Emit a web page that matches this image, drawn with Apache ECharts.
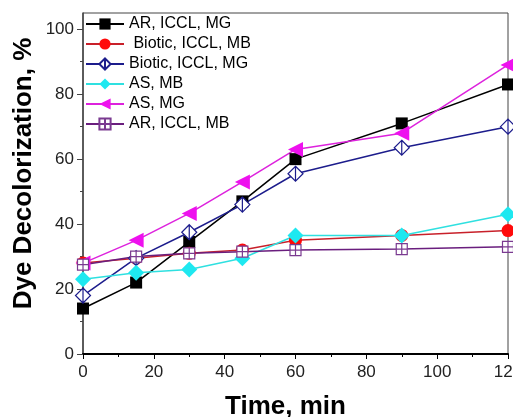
<!DOCTYPE html>
<html>
<head>
<meta charset="utf-8">
<script src="https://cdn.jsdelivr.net/npm/echarts@6/dist/echarts.min.js"></script>
<style>
  html, body { margin: 0; padding: 0; background: #fff; }
  #chart { width: 513px; height: 417px; }
</style>
</head>
<body>
<div id="chart"></div>
<script>
'use strict';
{
    const time = [0, 15, 30, 45, 60, 90, 120];
    const arIcclMg = [14, 22, 34.5, 47, 60, 71, 83];
    const bioIcclMb = [28, 29.5, 31, 32, 35, 36.5, 38];
    const bioIcclMg = [18, 29.5, 37.5, 46, 55.5, 63.5, 70];
    const asMb = [23, 25, 26, 29.5, 36.5, 36.5, 43];
    const asMg = [28, 35, 43.3, 53, 63, 68, 89];
    const arIcclMb = [27.5, 30, 31, 31.5, 32, 32.3, 33];

    const yLabels = [0, 20, 40, 60, 80, 100];
    const yMinor = [10, 30, 50, 70, 90];

    const font = 'Arial, "Liberation Sans", sans-serif';
    const pair = arr => arr.map((v, i) => [time[i], v]);

    function line(name, data, lineColor, symbol, size, itemStyle, extra) {
        return Object.assign({
            name: name,
            type: 'line',
            data: pair(data),
            symbol: symbol,
            symbolSize: size,
            lineStyle: { color: lineColor, width: 1.5 },
            itemStyle: itemStyle,
            clip: false
        }, extra || {});
    }

    let chart = echarts.init(document.getElementById('chart'));
    let option = {
        animation: false,
        backgroundColor: '#fff',
        textStyle: { fontFamily: font },
        grid: {
            left: 83, right: 5, top: 13, bottom: 63,
            outerBoundsMode: 'none',
            containLabel: false,
            show: true, borderColor: '#444', borderWidth: 1, backgroundColor: 'transparent'
        },
        legend: {
            orient: 'vertical',
            left: 85, top: 16, padding: 0,
            itemWidth: 38, itemHeight: 14, itemGap: 4,
            textStyle: { fontFamily: font, fontSize: 16, color: '#000' },
            data: ['AR, ICCL, MG', ' Biotic, ICCL, MB', 'Biotic, ICCL, MG', 'AS, MB', 'AS, MG', 'AR, ICCL, MB']
        },
        xAxis: {
            type: 'value',
            min: 0, max: 120, interval: 20,
            name: 'Time, min',
            nameLocation: 'middle',
            nameGap: 40,
            nameTextStyle: { fontFamily: font, fontSize: 26, fontWeight: 'bold', color: '#000', padding: [0, 20, 0, 0] },
            axisLine: { show: true, lineStyle: { color: '#000', width: 2 } },
            axisTick: { show: true, length: 5, lineStyle: { color: '#000' } },
            minorTick: { show: true, splitNumber: 2, length: 3, lineStyle: { color: '#000' } },
            axisLabel: { fontFamily: font, fontSize: 17, color: '#222', margin: 10 },
            splitLine: { show: false }
        },
        yAxis: [{
            type: 'value',
            min: 0, max: 105,
            name: 'Dye Decolorization, %',
            nameLocation: 'middle',
            nameGap: 46,
            nameMoveOverlap: false,
            nameTextStyle: { fontFamily: font, fontSize: 26, fontWeight: 'bold', color: '#000', padding: [0, 0, 0, 20] },
            axisLine: { show: true, lineStyle: { color: '#444', width: 1.5 } },
            axisTick: { show: true, length: 6, customValues: yLabels, lineStyle: { color: '#444' } },
            axisLabel: { fontFamily: font, fontSize: 17, color: '#222', margin: 9, customValues: yLabels },
            splitLine: { show: false }
        }, {
            type: 'value',
            min: 0, max: 105,
            position: 'left',
            axisLine: { show: false },
            axisTick: { show: true, length: 3, customValues: yMinor, lineStyle: { color: '#444' } },
            axisLabel: { show: false },
            splitLine: { show: false }
        }],
        series: [
            line('AR, ICCL, MG', arIcclMg, '#000', 'rect', 12, { color: '#000' }),
            line(' Biotic, ICCL, MB', bioIcclMb, '#c8202a', 'circle', 13, { color: '#ff0a0a' }),
            line('Biotic, ICCL, MG', bioIcclMg, '#1c1c8c',
                'path://M5 0 L10 5 L5 10 L0 5 Z M5 0 L5 10', 15,
                { color: '#fff', borderColor: '#1c1c8c', borderWidth: 1.2 }),
            line('AS, MB', asMb, '#2fe0e0', 'diamond', 16, { color: '#1ee8f0' }),
            line('AS, MG', asMg, '#dd22dd', 'triangle', 15, { color: '#ee11ee' }, { symbolRotate: 90 }),
            line('AR, ICCL, MB', arIcclMb, '#6a1e7e',
                'path://M0 0 H10 V10 H0 Z M5 0 V10 M0 5 H10', 11,
                { color: '#fff', borderColor: '#7a3a90', borderWidth: 1.2 })
        ]
    };
    chart.setOption(option);
}
</script>
</body>
</html>
